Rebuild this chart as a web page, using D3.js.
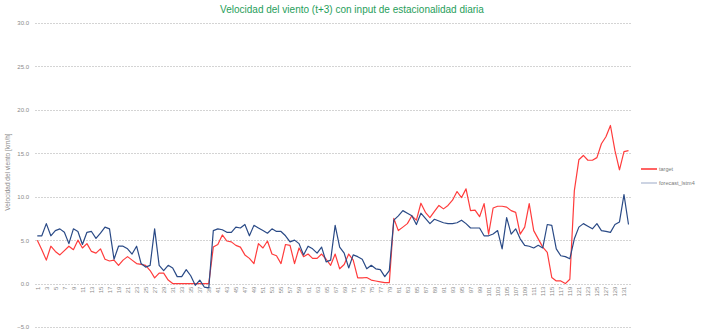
<!DOCTYPE html>
<html>
<head>
<meta charset="utf-8">
<script src="https://cdn.jsdelivr.net/npm/d3@7"></script>
<style>
  html, body { margin: 0; padding: 0; background: #ffffff; }
  svg { display: block; font-family: "Liberation Sans", Arial, sans-serif; }
</style>
</head>
<body>
<svg id="chart" width="702" height="334"></svg>
<script>
const title = "Velocidad del viento (t+3) con input de estacionalidad diaria";
const yLabel = "Velocidad del viento [km/h]";
const seriesNames = ["target", "forecast_lstm4"];
const categories = d3.range(1, 133);
const yTicks = [-5, 0, 5, 10, 15, 20, 25, 30];

const target = [
  5.0, 3.9, 2.7, 4.3, 3.7, 3.3, 3.8, 4.3, 3.9, 5.0,
  4.1, 4.6, 3.7, 3.5, 4.0, 2.8, 2.6, 2.7, 2.1, 2.7,
  3.1, 2.7, 2.3, 2.2, 2.1, 1.5, 0.65, 1.2, 1.2, 0.4,
  0.0, 0.0, 0.0, 0.0, 0.0, 0.0, 0.0, 0.0, 0.0, 4.2,
  4.5, 5.6, 4.9, 4.8, 4.4, 4.2, 3.3, 2.9, 2.3, 4.6,
  4.1, 4.9, 3.4, 3.2, 2.3, 4.5, 4.4, 2.3, 4.1, 3.1,
  3.4, 2.9, 2.9, 3.4, 2.8, 2.1, 3.4, 1.7, 2.2, 3.4,
  2.7, 0.65, 0.65, 0.7, 0.4, 0.3, 0.2, 0.1, 0.1, 7.5,
  6.1, 6.5, 6.9, 7.8, 7.3, 9.25, 8.2, 7.6, 8.3, 9.0,
  8.6, 9.0, 9.6, 10.6, 9.9, 10.9, 8.4, 8.45, 7.7, 9.2,
  5.7, 8.7, 8.9, 8.9, 8.8, 8.4, 8.2, 5.7, 6.5, 9.2,
  6.1, 5.15, 4.2, 3.6, 0.7, 0.3, 0.3, 0.0, 0.5, 10.7,
  14.25, 14.75, 14.2, 14.2, 14.5, 16.1, 16.9, 18.2, 15.3, 13.1,
  15.2, 15.3
];

const forecast = [
  5.5, 5.5, 6.9, 5.5, 6.1, 6.3, 5.9, 4.6, 6.3, 6.0,
  4.5, 5.9, 6.0, 5.2, 5.8, 6.5, 6.3, 2.8, 4.3, 4.3,
  4.0, 3.4, 4.3, 2.3, 1.9, 2.1, 6.3, 2.1, 1.5, 2.1,
  1.8, 0.8, 0.8, 1.6, 0.9, -0.2, 0.4, -0.4, -0.5, 6.1,
  6.3, 6.2, 5.9, 5.9, 6.5, 6.4, 6.8, 5.5, 6.7, 6.4,
  6.1, 5.8, 6.3, 6.0, 6.0, 5.5, 4.8, 5.0, 4.6, 3.3,
  4.3, 4.0, 3.5, 4.2, 2.5, 2.7, 6.7, 4.2, 3.5, 1.8,
  3.3, 3.1, 2.8, 1.7, 2.1, 1.7, 1.6, 0.8, 1.5, 7.3,
  7.8, 8.4, 8.1, 7.8, 6.8, 8.1, 7.5, 6.9, 7.4, 7.2,
  7.0, 6.9, 6.9, 7.0, 7.3, 6.9, 6.4, 6.4, 6.4, 5.5,
  5.5, 5.7, 6.1, 4.0, 7.6, 5.7, 6.3, 5.15, 4.4, 4.3,
  4.1, 4.4, 4.1, 6.8, 6.7, 4.0, 3.2, 3.1, 2.85, 5.15,
  6.5, 6.9, 6.6, 6.3, 6.9, 6.1, 6.0, 5.9, 6.8, 7.1,
  10.25, 6.8
];

const colors = ["#ff3c3c", "#2a4a86"];

const svg = d3.select("#chart");

const plot = { left: 35, right: 632, top: 23, bottom: 327 };

const x = d3.scalePoint()
  .domain(categories)
  .range([37.3, 628.5]);

const y = d3.scaleLinear()
  .domain([-5, 30])
  .range([plot.bottom, plot.top]);

// gridlines
svg.append("g")
  .selectAll("line")
  .data(yTicks)
  .join("line")
  .attr("x1", plot.left)
  .attr("x2", plot.right)
  .attr("y1", d => Math.round(y(d)) + 0.5)
  .attr("y2", d => Math.round(y(d)) + 0.5)
  .attr("stroke", "#d4d4d4")
  .attr("stroke-width", 1)
  .attr("stroke-dasharray", "2,1");

// y axis labels
const yAxis = d3.axisLeft(y)
  .tickValues(yTicks)
  .tickFormat(d3.format(".1f"))
  .tickSize(0)
  .tickPadding(0);
const gy = svg.append("g")
  .attr("transform", `translate(29,0)`)
  .call(yAxis);
gy.select(".domain").remove();
gy.selectAll("text")
  .attr("fill", "#8a8a8a")
  .style("font-size", "6px");

// x axis labels
const xAxis = d3.axisBottom(x)
  .tickValues(categories.filter(d => d % 2 === 1))
  .tickSize(0)
  .tickPadding(0);
const gx = svg.append("g")
  .attr("transform", `translate(0,${y(0)})`)
  .call(xAxis);
gx.select(".domain").remove();
gx.selectAll("text")
  .attr("fill", "#8a8a8a")
  .style("font-size", "6px")
  .attr("text-anchor", "end")
  .attr("transform", "rotate(-90)")
  .attr("x", -3)
  .attr("y", 0)
  .attr("dy", "0.32em");

// lines
const line = d3.line()
  .x((d, i) => x(categories[i]))
  .y(d => y(d));

[target, forecast].forEach((s, k) => {
  svg.append("path")
    .datum(s)
    .attr("fill", "none")
    .attr("stroke", colors[k])
    .attr("stroke-width", 1.2)
    .attr("stroke-linejoin", "round")
    .attr("d", line);
});

// title
svg.append("text")
  .attr("x", 352)
  .attr("y", 13)
  .attr("text-anchor", "middle")
  .attr("fill", "#1f9e5a")
  .style("font-size", "10px")
  .text(title);

// y label
svg.append("text")
  .attr("transform", `translate(10,${(plot.top + plot.bottom) / 2 - 3}) rotate(-90)`)
  .attr("text-anchor", "middle")
  .attr("fill", "#8a8a8a")
  .style("font-size", "6.5px")
  .text(yLabel);

// legend
const legend = svg.append("g");
seriesNames.forEach((name, k) => {
  const ly = 169 + k * 14;
  legend.append("line")
    .attr("x1", 641).attr("x2", 657)
    .attr("y1", ly).attr("y2", ly)
    .attr("stroke", colors[k])
    .attr("stroke-width", k === 0 ? 1.6 : 0.8)
    .attr("stroke-opacity", k === 0 ? 1 : 0.6);
  legend.append("text")
    .attr("x", 659)
    .attr("y", ly)
    .attr("dy", "0.32em")
    .attr("fill", "#7a7a7a")
    .style("font-size", "5.5px")
    .text(name);
});
</script>
</body>
</html>
